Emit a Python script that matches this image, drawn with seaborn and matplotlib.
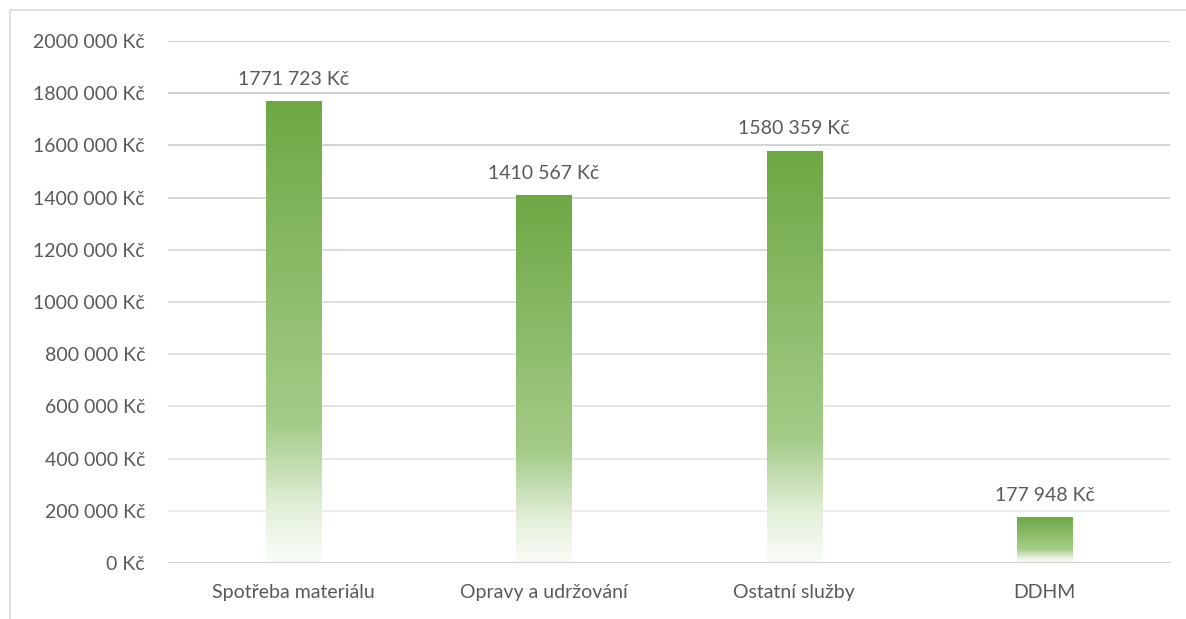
import numpy as np
import pandas as pd
import matplotlib
matplotlib.use("Agg")
import matplotlib.pyplot as plt
import seaborn as sns
from matplotlib.colors import LinearSegmentedColormap
from matplotlib.patches import Rectangle

# Data
categories = ["Spotřeba materiálu", "Opravy a udržování", "Ostatní služby", "DDHM"]
values = [1771723, 1410567, 1580359, 177948]
yticks = list(range(0, 2000001, 200000))


def kc(v):
    # Czech Excel style: "1771 723 Kč"
    if v < 1000:
        return f"{v} Kč"
    return f"{v // 1000} {v % 1000:03d} Kč"


df = pd.DataFrame({"kategorie": categories, "hodnota": values})

sns.set_style("white")
plt.rcParams["font.family"] = ["Lato", "DejaVu Sans"]
text_col = "#595959"
fs = 14

fig = plt.figure(figsize=(11.86, 6.19), dpi=100)
ax = fig.add_axes([168 / 1186, 1 - 563 / 619, (1170 - 168) / 1186, (563 - 41) / 619])

sns.barplot(data=df, x="kategorie", y="hodnota", width=0.22, ax=ax, color="#70ad47")

# gradient fill for each bar (green on top, fading to white at the bottom)
grad = LinearSegmentedColormap.from_list(
    "g", [(0.0, "#fbfdf9"), (0.12, "#e2efd9"), (0.3, "#a4cc88"), (1.0, "#6ea845")])
ramp = np.linspace(0, 1, 256).reshape(-1, 1)
for p in list(ax.patches):
    x0, w, h = p.get_x(), p.get_width(), p.get_height()
    p.set_visible(False)
    im = ax.imshow(ramp, cmap=grad, origin="lower", aspect="auto",
                   extent=[x0, x0 + w, 0, h], zorder=2, interpolation="bilinear")
    clip = Rectangle((x0, 0), w, h, transform=ax.transData)
    im.set_clip_path(clip)
    ax.text(x0 + w / 2, h + 50000, kc(int(round(h))), ha="center", va="bottom",
            fontsize=fs, color=text_col)
ax.set_xlim(-0.5, len(categories) - 0.5)
ax.set_ylim(0, 2000000)

# gridlines, darker at the top, lighter at the bottom
for t in yticks[1:]:
    g = int(0xee - (0xee - 0xc8) * t / 2000000)
    ax.axhline(t, color=f"#{g:02x}{g:02x}{g:02x}", lw=1.3, zorder=1)
ax.axhline(0, color="#d0d0d0", lw=1.5, zorder=3)

for s in ax.spines.values():
    s.set_visible(False)

ax.set_yticks(yticks)
ax.set_yticklabels([kc(t) for t in yticks])
ax.tick_params(axis="both", length=0, labelsize=fs, colors=text_col)
ax.tick_params(axis="y", pad=16.5)
ax.tick_params(axis="x", pad=15)
ax.set_xlabel("")
ax.set_ylabel("")

# outer chart border
fig.patches.append(Rectangle((10 / 1186, -0.1), 1.2, 1 - 10 / 619 + 0.1,
                             transform=fig.transFigure, fill=False,
                             edgecolor="#d9d9d9", lw=1.2))

fig.savefig("out.png", dpi=100)
